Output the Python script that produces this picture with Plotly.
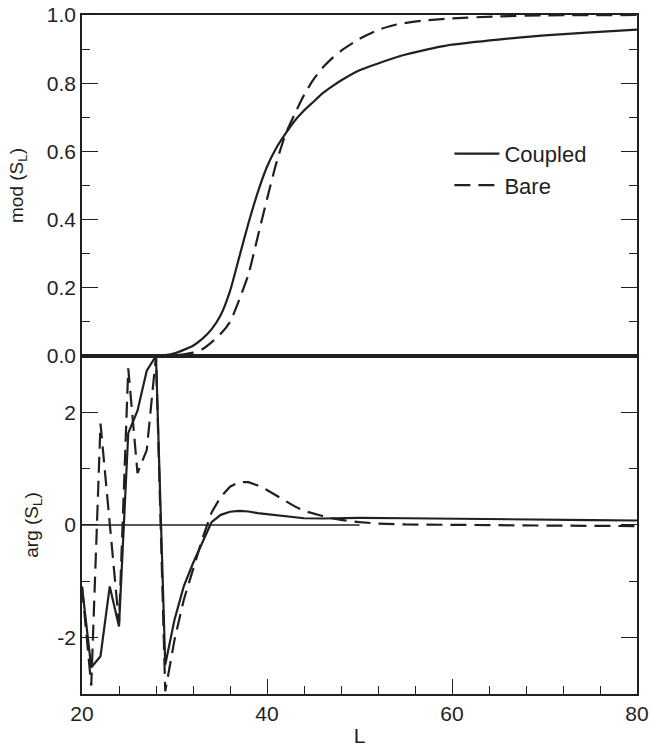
import plotly.graph_objects as go
from plotly.subplots import make_subplots

# ---- data ----
L_MOD_COUPLED = [20, 22, 24, 26, 28, 29, 30, 31, 32, 33, 34, 35, 36, 37, 38, 39, 40, 41, 42, 43,
                 44, 45, 46, 47, 48, 50, 52, 55, 58, 60, 65, 70, 75, 80]
MOD_COUPLED = [0.0, 0.0, 0.0, 0.0, 0.001, 0.003, 0.008, 0.018, 0.03, 0.05, 0.078, 0.12, 0.19,
               0.29, 0.39, 0.48, 0.555, 0.61, 0.652, 0.69, 0.72, 0.745, 0.77, 0.79, 0.808,
               0.838, 0.858, 0.884, 0.903, 0.913, 0.928, 0.94, 0.949, 0.957]

L_MOD_BARE = [20, 22, 24, 26, 28, 30, 31, 32, 33, 34, 35, 36, 37, 38, 39, 40, 41, 42, 43, 44,
              45, 46, 47, 48, 50, 52, 54, 57, 60, 65, 70, 80]
MOD_BARE = [0.0, 0.0, 0.0, 0.0, 0.0, 0.002, 0.005, 0.01, 0.02, 0.04, 0.065, 0.1, 0.165, 0.24,
            0.35, 0.46, 0.565, 0.65, 0.71, 0.765, 0.81, 0.845, 0.872, 0.895, 0.93, 0.956,
            0.972, 0.984, 0.99, 0.996, 0.999, 1.0]

L_ARG_COUPLED = [20, 21, 22, 23, 24, 25, 26, 27, 28, 29, 30, 31, 32, 33, 34, 35, 36, 37, 38,
                 39, 40, 42, 44, 46, 48, 50, 55, 60, 65, 70, 75, 80]
ARG_COUPLED = [-1.09, -2.53, -2.33, -1.09, -1.8, 1.63, 2.03, 2.74, 3.0, -2.48, -1.68, -1.09,
               -0.68, -0.33, 0.05, 0.18, 0.235, 0.25, 0.24, 0.21, 0.19, 0.15, 0.12, 0.115,
               0.12, 0.125, 0.12, 0.115, 0.105, 0.095, 0.088, 0.08]

L_ARG_BARE = [20, 21, 22, 23, 24, 25, 26, 27, 28, 29, 30, 31, 32, 33, 34, 35, 36, 37, 38, 39,
              40, 41, 42, 43, 44, 45, 46, 47, 48, 50, 52, 55, 60, 65, 70, 75, 80]
ARG_BARE = [-1.1, -2.85, 1.8, 0.0, -1.75, 2.78, 0.92, 1.33, 3.0, -2.95, -2.04, -1.33, -0.78,
            -0.25, 0.22, 0.5, 0.68, 0.76, 0.76, 0.7, 0.62, 0.52, 0.42, 0.33, 0.25, 0.2, 0.16,
            0.12, 0.09, 0.05, 0.025, 0.01, 0.0, -0.005, -0.01, -0.015, -0.02]

SERIES_NAMES = ["Coupled", "Bare"]
X_TICKS = [20, 40, 60, 80]
ARG_TICKS = [-2, 0, 2]
ARG_TICK_TEXT = ["-2", "0", "2"]
ZERO_LINE_L = [20, 50]

FONT = "Liberation Sans, Arial, Helvetica, sans-serif"
INK = "#231f20"

fig = make_subplots(rows=2, cols=1, shared_xaxes=True, vertical_spacing=0)

line_solid = dict(color=INK, width=2.2)
line_dash = dict(color=INK, width=2.2, dash="16px,8px")

fig.add_trace(go.Scatter(x=L_MOD_COUPLED, y=MOD_COUPLED, mode="lines", name=SERIES_NAMES[0],
                         line=dict(line_solid, shape="spline", smoothing=0.6),
                         legendgroup="c", showlegend=True), row=1, col=1)
fig.add_trace(go.Scatter(x=L_MOD_BARE, y=MOD_BARE, mode="lines", name=SERIES_NAMES[1],
                         line=dict(line_dash, shape="spline", smoothing=0.6),
                         legendgroup="b", showlegend=True), row=1, col=1)
fig.add_trace(go.Scatter(x=L_ARG_COUPLED, y=ARG_COUPLED, mode="lines", name=SERIES_NAMES[0],
                         line=line_solid, legendgroup="c", showlegend=False), row=2, col=1)
fig.add_trace(go.Scatter(x=L_ARG_BARE, y=ARG_BARE, mode="lines", name=SERIES_NAMES[1],
                         line=line_dash, legendgroup="b", showlegend=False), row=2, col=1)

# thin reference line at arg = 0
fig.add_shape(type="line", xref="x2", yref="y2", x0=ZERO_LINE_L[0], x1=ZERO_LINE_L[1],
              y0=0, y1=0, line=dict(color=INK, width=1.3), layer="below")

split = 0.4978
axis_common = dict(showline=True, linecolor=INK, linewidth=1.5, showgrid=False, zeroline=False,
                   automargin=False,
                   tickfont=dict(family=FONT, size=21, color=INK), tickcolor=INK)

fig.update_xaxes(range=[20, 80], mirror=True, ticks="", showticklabels=False,
                 **axis_common, row=1, col=1)
fig.update_xaxes(range=[20, 80], mirror=True, ticks="inside", ticklen=15, tickwidth=1.3,
                 tickvals=X_TICKS, showticklabels=True,
                 minor=dict(dtick=4, tick0=20, ticks="inside", ticklen=8, tickwidth=1.3,
                            tickcolor=INK, showgrid=False),
                 title=dict(text="L", font=dict(family=FONT, size=21, color=INK), standoff=4),
                 **axis_common, row=2, col=1)

fig.update_yaxes(domain=[split, 1], range=[0, 1], mirror="ticks", ticks="inside", ticklen=16,
                 tickwidth=1.3, dtick=0.2, tick0=0, tickformat=".1f",
                 minor=dict(dtick=0.1, ticks="inside", ticklen=8, tickwidth=1.3,
                            tickcolor=INK, showgrid=False),
                 title=dict(text="mod (S<sub>L</sub>)", font=dict(family=FONT, size=19, color=INK),
                            standoff=18),
                 **axis_common, row=1, col=1)
fig.update_yaxes(domain=[0, split], range=[-3, 3], mirror="ticks", ticks="inside", ticklen=16,
                 tickwidth=1.3, tickvals=ARG_TICKS, ticktext=ARG_TICK_TEXT,
                 minor=dict(dtick=1, tick0=0, ticks="inside", ticklen=8, tickwidth=1.3,
                            tickcolor=INK, showgrid=False),
                 title=dict(text="arg (S<sub>L</sub>)", font=dict(family=FONT, size=19, color=INK),
                            standoff=14),
                 **axis_common, row=2, col=1)

fig.update_layout(
    width=650, height=747,
    margin=dict(l=82, r=13, t=15, b=53),
    paper_bgcolor="white", plot_bgcolor="white",
    font=dict(family=FONT, color=INK),
    showlegend=True,
    legend=dict(x=0.662, y=0.772, xanchor="left", yanchor="middle",
                bgcolor="rgba(0,0,0,0)", borderwidth=0,
                font=dict(family=FONT, size=22, color=INK),
                tracegroupgap=0, itemwidth=45),
)

fig.write_html("out.html", config={"displayModeBar": False},
               post_script="document.body.style.margin='0';")
